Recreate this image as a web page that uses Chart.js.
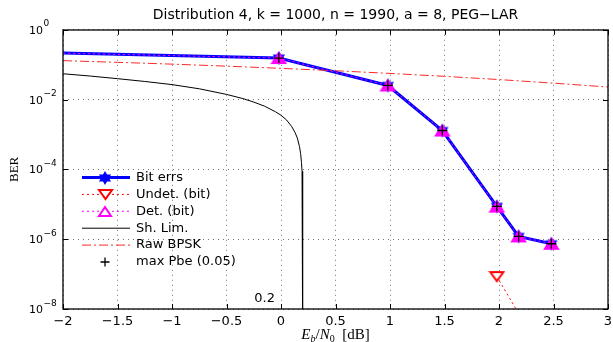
<!DOCTYPE html>
<html>
<head>
<meta charset="utf-8">
<script src="https://cdn.jsdelivr.net/npm/chart.js@4/dist/chart.umd.min.js"></script>
<style>
  html, body { margin: 0; padding: 0; background: #fff; }
  canvas { display: block; }
</style>
</head>
<body>
<canvas id="berChart" width="613" height="342"></canvas>
<script>
// Values
const ebn0 = [-2, -0.02, 0.98, 1.48, 1.98, 2.18, 2.48];
const bitErrs = [0.215, 0.155, 0.0254, 0.0013, 8.7e-6, 1.2e-6, 7.4e-7];
const detErrs = [0.215, 0.155, 0.0254, 0.0013, 8.6e-6, 1.2e-6, 7.4e-7];
const undetX = [1.98, 2.18];
const undetErrs = [8.5e-8, 7.5e-9];
const pbeX = [-0.02, 0.98, 1.48, 1.98, 2.18, 2.48];
const pbeErrs = [0.155, 0.0254, 0.0013, 8.7e-6, 1.2e-6, 7.4e-7];
const shannonX = [-2, -1.75, -1.5, -1.25, -1, -0.75, -0.5, -0.35, -0.25, -0.15, -0.05, 0, 0.05, 0.1, 0.13, 0.15, 0.17, 0.18, 0.188, 0.193, 0.197, 0.199, 0.2];
const shannonBer = [0.055, 0.0473, 0.0398, 0.0331, 0.0269, 0.0204, 0.0141, 0.0107, 0.0085, 0.00646, 0.00447, 0.00355, 0.00263, 0.00166, 0.00112, 0.00079, 0.000447, 0.000282, 0.000158, 0.000089, 0.00004, 0.000016, 1e-9];
const bpskX = [-2, -1.5, -1, -0.5, 0, 0.5, 1, 1.5, 2, 2.5, 3];
const bpskBer = [0.1306, 0.117, 0.1038, 0.0909, 0.0786, 0.0671, 0.0563, 0.0464, 0.0375, 0.0296, 0.0229];

const seriesNames = ['Bit errs', 'Undet. (bit)', 'Det. (bit)', 'Sh. Lim.', 'Raw BPSK', 'max Pbe (0.05)'];
const xTicks = [-2, -1.5, -1, -0.5, 0, 0.5, 1, 1.5, 2, 2.5, 3];
const yTickExps = [0, -2, -4, -6, -8];
const titleText = 'Distribution 4, k = 1000, n = 1990, a = 8, PEG\u2212LAR';
const yTitle = 'BER';
const shannonNote = '0.2';

Chart.defaults.font.family = '"DejaVu Sans", sans-serif';
Chart.defaults.color = '#000';

const pts = (xs, ys) => xs.map((x, i) => ({ x: x, y: ys[i] }));

// marker images (MATLAB style hexagram and triangles)
function hexagram(r, color) {
    const c = document.createElement('canvas');
    const s = Math.ceil(2 * r + 2);
    c.width = s; c.height = s;
    const g = c.getContext('2d');
    g.fillStyle = color;
    g.beginPath();
    for (let i = 0; i < 12; i++) {
        const a = -Math.PI / 2 + i * Math.PI / 6;
        const rr = i % 2 ? r * 0.577 : r;
        g.lineTo(s / 2 + rr * Math.cos(a), s / 2 + rr * Math.sin(a));
    }
    g.closePath();
    g.fill();
    return c;
}

function triangleImg(w, h, down, stroke, fill) {
    const c = document.createElement('canvas');
    c.width = w + 4; c.height = h + 4;
    const g = c.getContext('2d');
    g.beginPath();
    if (down) {
        g.moveTo(2, 2); g.lineTo(w + 2, 2); g.lineTo(w / 2 + 2, h + 2);
    } else {
        g.moveTo(w / 2 + 2, 2); g.lineTo(w + 2, h + 2); g.lineTo(2, h + 2);
    }
    g.closePath();
    g.fillStyle = fill;
    g.fill();
    g.strokeStyle = stroke;
    g.lineWidth = 2;
    g.stroke();
    return c;
}

const starImg = hexagram(7, '#0000ff');
const detImg = triangleImg(13, 10, false, '#ff00ff', '#ff00ff');
const undetImg = triangleImg(13, 9, true, '#ff0000', '#ffffff');
const detLegendImg = triangleImg(12, 9, false, '#ff00ff', '#ffffff');

const legendMarkers = [starImg, undetImg, detLegendImg, null, null, 'plus'];

const matlabLook = {
    id: 'matlabLook',
    afterDraw(chart) {
        const { ctx, chartArea, scales } = chart;
        const { left, right, top, bottom } = chartArea;
        ctx.save();

        // inward tick marks and axes box
        ctx.strokeStyle = '#000';
        ctx.lineWidth = 1;
        ctx.setLineDash([]);
        ctx.beginPath();
        xTicks.forEach(v => {
            const px = Math.round(scales.x.getPixelForValue(v)) + 0.5;
            ctx.moveTo(px, bottom); ctx.lineTo(px, bottom - 5);
            ctx.moveTo(px, top); ctx.lineTo(px, top + 5);
        });
        yTickExps.forEach(e => {
            const py = Math.round(scales.y.getPixelForValue(Math.pow(10, e))) + 0.5;
            ctx.moveTo(left, py); ctx.lineTo(left + 5, py);
            ctx.moveTo(right, py); ctx.lineTo(right - 5, py);
        });
        ctx.stroke();
        ctx.lineWidth = 1.3;
        ctx.strokeRect(Math.round(left), Math.round(top), Math.round(right - left), Math.round(bottom - top));

        // y tick labels as 10 with a raised exponent
        ctx.fillStyle = '#000';
        ctx.textAlign = 'left';
        ctx.textBaseline = 'alphabetic';
        yTickExps.forEach(e => {
            const py = scales.y.getPixelForValue(Math.pow(10, e));
            ctx.font = '11px "DejaVu Sans"';
            ctx.fillText('10', 29, py + 4);
            ctx.font = '9px "DejaVu Sans"';
            ctx.fillText(e < 0 ? '\u2212' + (-e) : String(e), 43.5, py - 3.5);
        });

        // x axis title  E_b/N_0 [dB]
        const parts = [
            ['E', 'italic 15px "Liberation Serif"', 0],
            ['b', 'italic 10px "Liberation Serif"', 3],
            ['/', '15px "Liberation Serif"', 0],
            ['N', 'italic 15px "Liberation Serif"', 0],
            ['0', '10px "Liberation Serif"', 3],
            ['\u2002[dB]', '15px "Liberation Serif"', 0]
        ];
        let total = 0;
        parts.forEach(p => { ctx.font = p[1]; total += ctx.measureText(p[0]).width; });
        let tx = (left + right) / 2 - total / 2;
        parts.forEach(p => {
            ctx.font = p[1];
            ctx.fillText(p[0], tx, 339 + p[2]);
            tx += ctx.measureText(p[0]).width;
        });

        // Shannon limit note
        ctx.font = '13px "DejaVu Sans"';
        ctx.textAlign = 'center';
        ctx.fillText(shannonNote, scales.x.getPixelForValue(-0.15), 301.5);

        // legend, transparent background, inside the axes
        const rowY0 = 177.5, rowStep = 16.9;
        const x0 = 82, x1 = 130, xm = 105, xText = 136;
        chart.data.datasets.forEach((ds, i) => {
            const yy = rowY0 + i * rowStep;
            if (ds.showLine !== false) {
                ctx.beginPath();
                ctx.strokeStyle = ds.borderColor;
                ctx.lineWidth = ds.borderWidth;
                ctx.setLineDash(ds.borderDash || []);
                ctx.moveTo(x0, yy); ctx.lineTo(x1, yy);
                ctx.stroke();
                ctx.setLineDash([]);
            }
            const m = legendMarkers[i];
            if (m === 'plus') {
                ctx.beginPath();
                ctx.strokeStyle = '#000';
                ctx.lineWidth = 1.3;
                ctx.moveTo(xm - 4.5, yy); ctx.lineTo(xm + 4.5, yy);
                ctx.moveTo(xm, yy - 4.5); ctx.lineTo(xm, yy + 4.5);
                ctx.stroke();
            } else if (m) {
                ctx.drawImage(m, Math.round(xm - m.width / 2), Math.round(yy - m.height / 2));
            }
            ctx.fillStyle = '#000';
            ctx.font = '13px "DejaVu Sans"';
            ctx.textAlign = 'left';
            ctx.textBaseline = 'middle';
            ctx.fillText(seriesNames[i], xText, yy);
        });
        ctx.restore();
    }
};

const gridStyle = { color: 'rgba(0,0,0,0.55)', lineWidth: 1, drawTicks: false };

new Chart(document.getElementById('berChart'), {
    type: 'line',
    data: {
        datasets: [{
            label: seriesNames[0],
            data: pts(ebn0, bitErrs),
            borderColor: '#0000ff',
            borderWidth: 3,
            pointStyle: starImg,
            pointRadius: ebn0.map((x, i) => i === 0 ? 0 : 6),
            order: 5
        }, {
            label: seriesNames[1],
            data: pts(undetX, undetErrs),
            borderColor: '#ff0000',
            borderWidth: 1,
            borderDash: [2, 3],
            pointStyle: undetImg,
            pointRadius: [6, 0],
            order: 4
        }, {
            label: seriesNames[2],
            data: pts(ebn0, detErrs),
            borderColor: '#ff00ff',
            borderWidth: 1,
            borderDash: [2, 3],
            pointStyle: detImg,
            pointRadius: ebn0.map((x, i) => i === 0 ? 0 : 6),
            order: 3
        }, {
            label: seriesNames[3],
            data: pts(shannonX, shannonBer),
            borderColor: '#000000',
            borderWidth: 1,
            pointRadius: 0,
            order: 2
        }, {
            label: seriesNames[4],
            data: pts(bpskX, bpskBer),
            borderColor: 'rgb(255,40,40)',
            borderWidth: 1,
            borderDash: [9, 3, 2, 3],
            pointRadius: 0,
            order: 1
        }, {
            label: seriesNames[5],
            data: pts(pbeX, pbeErrs),
            showLine: false,
            pointStyle: 'cross',
            pointRadius: 5,
            pointBorderColor: '#000000',
            pointBorderWidth: 1.3,
            order: 0
        }]
    },
    options: {
        responsive: false,
        animation: false,
        devicePixelRatio: 1,
        layout: { autoPadding: false, padding: { left: 0, right: 5, top: 0, bottom: 0 } },
        elements: { line: { tension: 0 } },
        plugins: {
            legend: { display: false },
            tooltip: { enabled: false },
            title: {
                display: true,
                text: titleText,
                fullSize: false,
                color: '#000',
                font: { family: '"DejaVu Sans"', size: 14, weight: 'normal' },
                padding: { top: 7, bottom: 6 }
            }
        },
        scales: {
            x: {
                type: 'linear',
                min: -2,
                max: 3,
                afterBuildTicks: s => { s.ticks = xTicks.map(v => ({ value: v })); },
                afterFit: s => { s.height = 33; s.paddingLeft = 0; s.paddingRight = 0; },
                ticks: {
                    autoSkip: false,
                    maxRotation: 0,
                    padding: 5,
                    color: '#000',
                    font: { family: '"DejaVu Sans"', size: 13 },
                    callback: v => (v < 0 ? '\u2212' + (-v) : String(v))
                },
                grid: gridStyle,
                border: { display: false, dash: [1, 4] }
            },
            y: {
                type: 'logarithmic',
                min: 1e-8,
                max: 1,
                afterBuildTicks: s => { s.ticks = yTickExps.map(e => ({ value: Math.pow(10, e) })); },
                afterFit: s => { s.width = 63; s.paddingTop = 0; s.paddingBottom = 0; },
                ticks: { callback: () => '' },
                title: {
                    display: true,
                    text: yTitle,
                    color: '#000',
                    font: { family: '"Liberation Serif"', size: 13 },
                    padding: { top: 7, bottom: 0 }
                },
                grid: gridStyle,
                border: { display: false, dash: [1, 4] }
            }
        }
    },
    plugins: [matlabLook]
});
</script>
</body>
</html>
